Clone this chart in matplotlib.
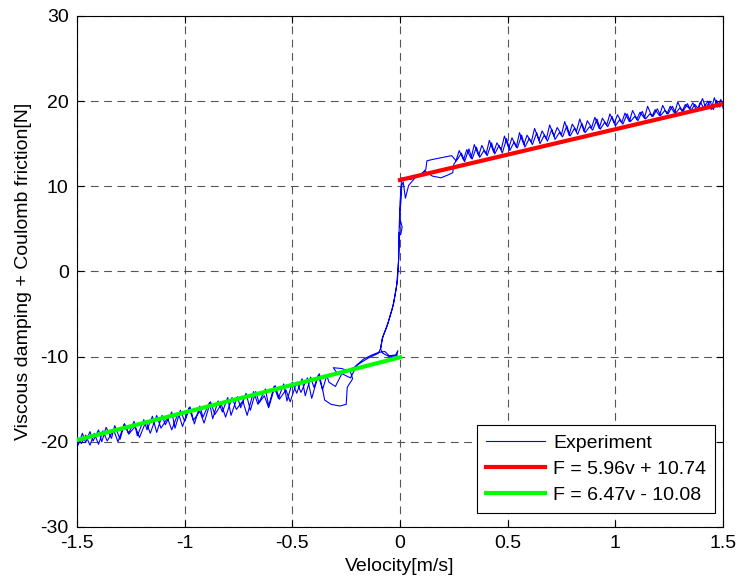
import numpy as np
import matplotlib
matplotlib.use("Agg")
import matplotlib.pyplot as plt

plt.rcParams["font.family"] = ["Liberation Sans", "DejaVu Sans"]
plt.rcParams["axes.unicode_minus"] = False

# measured friction trace, read off the picture in several passes
# pass 1: right band going left, down the jump, loop near -0.3
pass1_v = [1.50, 1.49, 1.475, 1.46, 1.445, 1.43, 1.41, 1.395, 1.38, 1.36, 1.345, 1.325, 1.31,
           1.29, 1.275, 1.255, 1.24, 1.22, 1.205, 1.185, 1.17, 1.15, 1.135, 1.115, 1.10, 1.08,
           1.065, 1.045, 1.03, 1.01, 0.995, 0.975, 0.96, 0.94, 0.925, 0.905, 0.89, 0.87, 0.855,
           0.835, 0.82, 0.80, 0.785, 0.765, 0.75, 0.73, 0.715, 0.695, 0.68, 0.66, 0.645, 0.625,
           0.61, 0.59, 0.575, 0.555, 0.54, 0.52, 0.505, 0.485, 0.47, 0.45, 0.435, 0.415, 0.40,
           0.38, 0.365, 0.345, 0.33, 0.31, 0.295, 0.275, 0.26, 0.24, 0.20, 0.16, 0.125, 0.12,
           0.10, 0.07, 0.04, 0.025, 0.015, 0.008, 0.005, 0.0, -0.002, 0.002, 0.01, 0.003, -0.004,
           -0.005, -0.008, -0.012, -0.018, -0.026, -0.036, -0.06, -0.083, -0.09, -0.08, -0.05,
           -0.015, -0.01, -0.02, -0.05, -0.07, -0.10, -0.13, -0.17, -0.21, -0.24, -0.29, -0.31,
           -0.27, -0.23, -0.22, -0.245, -0.25, -0.28, -0.32, -0.35, -0.36, -0.38]
pass1_f = [19.2, 20.2, 19.3, 20.4, 19.0, 20.0, 19.2, 19.9, 18.9, 19.8, 19.1, 19.6, 18.8,
           19.9, 18.6, 19.4, 18.5, 19.5, 18.3, 19.0, 18.2, 19.4, 18.0, 18.7, 17.9, 18.9,
           17.6, 18.6, 17.5, 18.4, 17.4, 18.5, 17.2, 18.0, 16.8, 18.1, 16.9, 17.7, 16.4,
           17.9, 16.5, 17.3, 16.0, 17.6, 16.1, 16.9, 15.9, 17.2, 15.6, 16.5, 15.4, 16.8,
           15.2, 16.0, 14.9, 16.3, 14.6, 15.7, 14.5, 15.9, 14.3, 15.1, 14.0, 15.4, 13.8,
           14.8, 13.6, 14.9, 13.3, 14.3, 13.1, 14.2, 13.0, 13.6, 13.4, 13.2, 13.0, 12.0,
           11.4, 11.0, 10.1, 8.6, 10.5, 10.1, 8.5, 7.0, 5.2, 6.0, 5.2, 4.3, 4.6,
           2.6, 0.5, -1.0, -2.1, -3.2, -4.4, -6.4, -7.9, -9.1, -9.6, -10.0,
           -9.9, -9.3, -9.8, -9.9, -9.4, -9.5, -9.8, -10.3, -11.2, -11.6, -12.0, -11.3,
           -11.4, -11.8, -12.6, -13.6, -15.6, -15.8, -15.6, -15.1, -13.8, -12.2]

# pass 2: left band going left to -1.5
pass2_v = [-0.41, -0.43, -0.46, -0.48, -0.51, -0.53, -0.56, -0.58, -0.61, -0.63, -0.66, -0.68,
           -0.71, -0.73, -0.76, -0.78, -0.81, -0.83, -0.86, -0.88, -0.91, -0.93, -0.96, -0.98,
           -1.01, -1.03, -1.06, -1.08, -1.11, -1.13, -1.16, -1.18, -1.21, -1.23, -1.26, -1.28,
           -1.31, -1.33, -1.36, -1.38, -1.40, -1.42, -1.44, -1.46, -1.48, -1.50]
pass2_f = [-14.9, -12.5, -14.2, -13.0, -15.3, -13.9, -15.0, -13.4, -16.0, -14.6, -15.6, -14.1,
           -16.9, -15.2, -16.2, -14.8, -17.1, -15.6, -16.8, -15.3, -17.8, -16.4, -17.5, -16.0,
           -18.2, -16.6, -18.6, -17.2, -18.4, -16.9, -19.0, -17.6, -19.5, -18.2, -19.1, -17.9,
           -20.0, -18.6, -19.9, -18.7, -20.3, -19.0, -20.4, -19.2, -20.2, -19.4]

# pass 3: left band going right, up the jump again
pass3_v = [-1.495, -1.475, -1.46, -1.44, -1.425, -1.40, -1.385, -1.365, -1.34, -1.325, -1.30,
           -1.28, -1.26, -1.235, -1.22, -1.19, -1.175, -1.15, -1.13, -1.105, -1.09, -1.06,
           -1.045, -1.02, -1.0, -0.975, -0.955, -0.93, -0.915, -0.885, -0.87, -0.845, -0.825,
           -0.80, -0.785, -0.755, -0.74, -0.715, -0.695, -0.67, -0.655, -0.625, -0.61, -0.585,
           -0.565, -0.54, -0.525, -0.50, -0.48, -0.455, -0.44, -0.415, -0.40, -0.375, -0.36,
           -0.34, -0.33, -0.30, -0.27, -0.23, -0.20, -0.15, -0.10, -0.09, -0.08, -0.055, -0.03,
           -0.015, -0.006, -0.004, 0.0, 0.006, 0.01, 0.05, 0.09, 0.115, 0.15, 0.19, 0.22, 0.245,
           0.25, 0.27]
pass3_f = [-20.4, -19.0, -20.1, -18.8, -19.9, -18.6, -20.0, -18.3, -19.6, -18.1, -19.7,
           -17.9, -19.0, -17.6, -19.3, -17.4, -18.6, -17.0, -18.9, -16.9, -18.0, -16.5,
           -18.4, -16.3, -17.6, -15.9, -17.9, -15.8, -17.1, -15.4, -17.3, -15.2, -16.5,
           -14.8, -16.9, -14.7, -16.0, -14.3, -16.3, -14.1, -15.4, -13.8, -15.8, -13.5,
           -14.9, -13.2, -15.2, -13.0, -14.3, -12.6, -14.6, -12.4, -13.6, -12.0, -13.9,
           -12.2, -13.0, -13.5, -12.0, -12.5, -11.0, -10.2, -9.6, -9.0, -7.7, -6.0, -3.8,
           -1.5, 1.5, 5.0, 8.0, 10.4, 11.0, 10.8, 11.3, 11.8, 11.2, 11.0, 11.3, 11.6,
           12.6, 13.3]

# pass 4: right band going right to 1.5
pass4_v = [0.285, 0.30, 0.32, 0.335, 0.355, 0.37, 0.39, 0.405, 0.425, 0.44, 0.46, 0.475, 0.495,
           0.51, 0.53, 0.545, 0.565, 0.58, 0.60, 0.615, 0.635, 0.65, 0.67, 0.685, 0.705, 0.72,
           0.74, 0.755, 0.775, 0.79, 0.81, 0.825, 0.845, 0.86, 0.88, 0.895, 0.915, 0.93, 0.95,
           0.965, 0.985, 1.0, 1.02, 1.035, 1.055, 1.07, 1.09, 1.105, 1.125, 1.14, 1.16, 1.175,
           1.195, 1.21, 1.23, 1.245, 1.265, 1.28, 1.30, 1.315, 1.335, 1.35, 1.37, 1.385, 1.405,
           1.42, 1.44, 1.455, 1.47, 1.485, 1.50]
pass4_f = [13.9, 12.9, 14.4, 13.2, 14.6, 13.4, 14.2, 13.6, 15.1, 13.8, 14.8, 13.9, 15.6,
           14.2, 15.2, 14.5, 16.0, 14.6, 15.6, 14.9, 16.3, 15.0, 16.0, 15.3, 16.7, 15.5,
           16.3, 15.8, 17.1, 15.9, 16.8, 16.1, 17.4, 16.3, 17.0, 16.6, 17.9, 16.7, 17.5,
           17.0, 18.2, 17.1, 17.8, 17.3, 18.5, 17.6, 18.2, 17.7, 18.8, 17.9, 18.5, 18.2,
           19.1, 18.3, 18.9, 18.5, 19.4, 18.6, 19.2, 18.8, 19.7, 18.9, 19.6, 19.1, 20.3,
           19.2, 20.0, 19.0, 20.1, 19.3, 19.9]

# linear fits F = a*v + b
fit_labels = ["F = 5.96v + 10.74", "F = 6.47v - 10.08"]
fit_slope = [5.96, 6.47]
fit_offset = [10.74, -10.08]
fit_range = [(0.0, 1.5), (-1.5, 0.0)]
fit_colors = ["#ff0000", "#00ff00"]

xticks = [-1.5, -1, -0.5, 0, 0.5, 1, 1.5]
xtick_labels = ["-1.5", "-1", "-0.5", "0", "0.5", "1", "1.5"]
yticks = [-30, -20, -10, 0, 10, 20, 30]
ytick_labels = ["-30", "-20", "-10", "0", "10", "20", "30"]

exp_v = np.concatenate([pass1_v, pass2_v, pass3_v, pass4_v])
exp_f = np.concatenate([pass1_f, pass2_f, pass3_f, pass4_f])

fig = plt.figure(figsize=(7.4, 5.83), dpi=100)
ax = fig.add_axes([0.1041, 0.0961, 0.8729, 0.8765])

ax.plot(exp_v, exp_f, color="#0000ff", lw=0.8, label="Experiment", zorder=3)
for lab, a, b, (v0, v1), col in zip(fit_labels, fit_slope, fit_offset, fit_range, fit_colors):
    v = np.array([v0, v1])
    ax.plot(v, a * v + b, color=col, lw=3, label=lab, zorder=4)

ax.set_xlim(-1.5, 1.5)
ax.set_ylim(-30, 30)
ax.set_xticks(xticks)
ax.set_xticklabels(xtick_labels)
ax.set_yticks(yticks)
ax.set_yticklabels(ytick_labels)
ax.tick_params(direction="in", length=5, width=0.8, labelsize=14, top=True, right=True,
               pad=6)
ax.grid(True, color="#555555", lw=0.8, linestyle=(0, (7, 5)))
for sp in ax.spines.values():
    sp.set_linewidth(0.8)

ax.set_xlabel("Velocity[m/s]", fontsize=14, labelpad=4)
ax.set_ylabel("Viscous damping + Coulomb friction[N]", fontsize=14, labelpad=6)

leg = ax.legend(loc="lower right", bbox_to_anchor=(715 / 740, 1 - 513 / 583),
                bbox_transform=fig.transFigure, borderaxespad=0,
                fontsize=14, frameon=True, fancybox=False,
                edgecolor="black", framealpha=1, handlelength=3.0, handletextpad=0.45,
                labelspacing=0.45, borderpad=0.45)
leg.get_frame().set_linewidth(0.8)

fig.savefig("out.png", dpi=100)
